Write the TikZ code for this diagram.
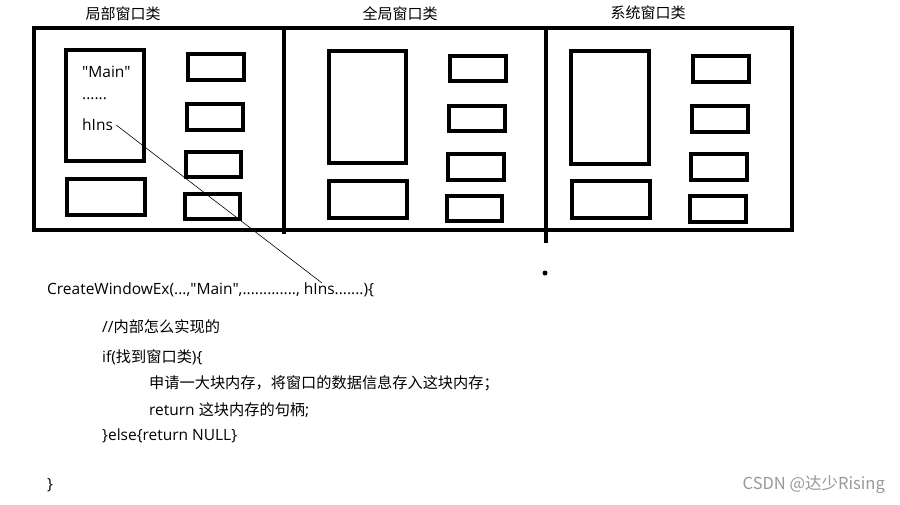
\documentclass[tikz,border=0pt]{standalone}
\usepackage{fontspec}
\newfontfamily\cjkf{Noto Sans CJK SC}
\newfontfamily\lat{Open Sans}
\newcommand{\zh}[1]{{\cjkf\fontsize{15.2}{17}\selectfont #1}}
\begin{document}
\begin{tikzpicture}[x=1pt,y=-1pt,
  frm/.style={line width=4pt},
  wbox/.style={draw,line width=4pt,rectangle,inner sep=0pt,outer sep=0pt},
  txt/.style={inner sep=0pt,anchor=west,font=\lat\fontsize{15.5}{17}\selectfont},
  ttl/.style={inner sep=0pt,font=\cjkf\fontsize{15}{17}\selectfont}]
\useasboundingbox (0,0) rectangle (900,504);
\fill[white] (0,0) rectangle (900,504);
% outer frame and dividers
\draw[frm] (34,28) rectangle (791.5,230);
\draw[frm] (283.5,28) -- (283.5,234);
\draw[frm] (546,28) -- (546,243);
\fill (545,273) circle (2.5);
% titles
\node[ttl] (t1) at (123,14) {局部窗口类};
\node[ttl] (t2) at (400,14) {全局窗口类};
\node[ttl] (t3) at (648,13) {系统窗口类};
% left section
\node[wbox,minimum width=78pt,minimum height=111pt] (lb) at (105,105.5) {};
\node[wbox,minimum width=78pt,minimum height=36pt] (lc) at (106,197) {};
\node[wbox,minimum width=56pt,minimum height=26pt] (l1) at (216,67) {};
\node[wbox,minimum width=56pt,minimum height=26pt] (l2) at (215,117) {};
\node[wbox,minimum width=55pt,minimum height=25pt] (l3) at (213.5,164.5) {};
\node[wbox,minimum width=55pt,minimum height=25pt] (l4) at (212.5,206.5) {};
\node[txt] (main) at (82,72) {"Main"};
\node[txt] (dots) at (82,99) {......};
\node[txt] (hins) at (82,125) {hIns};
% middle section
\node[wbox,minimum width=77pt,minimum height=112pt] (mb) at (367.5,107) {};
\node[wbox,minimum width=78pt,minimum height=37pt] (mc) at (368,199.5) {};
\node[wbox,minimum width=56pt,minimum height=25pt] (m1) at (478,68.5) {};
\node[wbox,minimum width=56pt,minimum height=25pt] (m2) at (477,118.5) {};
\node[wbox,minimum width=56pt,minimum height=26pt] (m3) at (476,167) {};
\node[wbox,minimum width=55pt,minimum height=25pt] (m4) at (474.5,208.5) {};
% right section
\node[wbox,minimum width=78pt,minimum height=113pt] (rb) at (610,107.5) {};
\node[wbox,minimum width=78pt,minimum height=37pt] (rc) at (611,199.5) {};
\node[wbox,minimum width=56pt,minimum height=26pt] (r1) at (721,69) {};
\node[wbox,minimum width=56pt,minimum height=26pt] (r2) at (720,119) {};
\node[wbox,minimum width=56pt,minimum height=26pt] (r3) at (719,167) {};
\node[wbox,minimum width=56pt,minimum height=26pt] (r4) at (718,209) {};
% code
\node[txt] (c1) at (47,290) {CreateWindowEx(...,"Main",............., hIns.......)\{};
\node[txt] (c2) at (102,327) {//\zh{内部怎么实现的}};
\node[txt] (c3) at (102,357) {if(\zh{找到窗口类})\{};
\node[txt] (c4) at (149,383) {\zh{申请一大块内存，将窗口的数据信息存入这块内存；}};
\node[txt] (c5) at (149,410) {return \zh{这块内存的句柄};};
\node[txt] (c6) at (102,436) {\}else\{return NULL\}};
\node[txt] (c7) at (47,485) {\}};
\node[inner sep=0pt,anchor=east,text=black!40,font=\cjkf\fontsize{16.5}{18}\selectfont] (wm) at (885,485) {CSDN @达少Rising};
% connector
\coordinate (lineend) at (322,283);
\draw[line width=0.6pt] ([xshift=3pt]hins.east) -- (lineend);
\end{tikzpicture}
\end{document}
